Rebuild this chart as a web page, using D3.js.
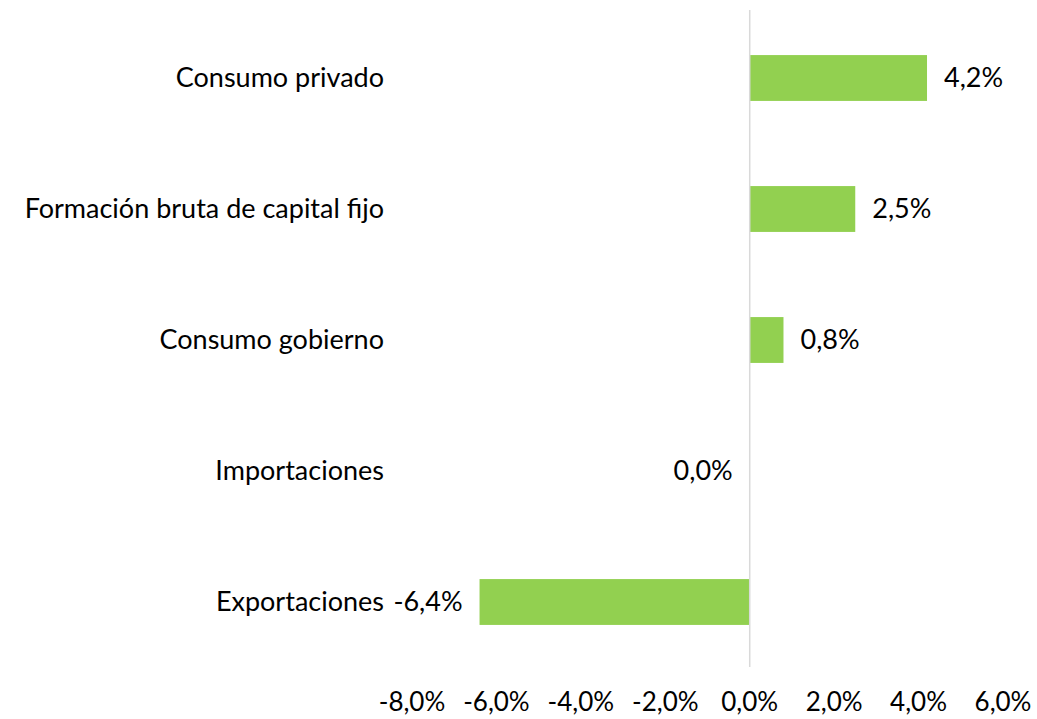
<!DOCTYPE html>
<html>
<head>
<meta charset="utf-8">
<script src="https://cdn.jsdelivr.net/npm/d3@7"></script>
<style>
  body { margin: 0; background: #fff; }
  text { font-family: Lato, "Open Sans", sans-serif; fill: #000; }
</style>
</head>
<body>
<div id="chartBox"></div>
<script>
var categories = ['Consumo privado', 'Formación bruta de capital fijo', 'Consumo gobierno', 'Importaciones', 'Exportaciones'];
var values = [4.2, 2.5, 0.8, 0.0, -6.4];
var ticks = [-8, -6, -4, -2, 0, 2, 4, 6];

var width = 1037, height = 719;
var fmt = function(v) { return v.toFixed(1).replace('.', ',') + '%'; };

var svg = d3.select('#chartBox').append('svg')
    .attr('width', width)
    .attr('height', height);

var x = d3.scaleLinear()
    .domain([-8, 6])
    .range([412, 1003]);

var y = d3.scaleBand()
    .domain(categories)
    .range([12.5, 667.5])
    .paddingInner(0.65)
    .paddingOuter(0.325);

// bars
svg.append('g').selectAll('rect')
    .data(values)
    .enter()
    .append('rect')
    .attr('x', function(d) { return x(Math.min(0, d)); })
    .attr('y', function(d, i) { return y(categories[i]); })
    .attr('width', function(d) { return Math.abs(x(d) - x(0)); })
    .attr('height', y.bandwidth())
    .attr('fill', '#92d050');

// zero line
svg.append('line')
    .attr('x1', x(0)).attr('x2', x(0))
    .attr('y1', 10).attr('y2', 667)
    .attr('stroke', '#d9d9d9')
    .attr('stroke-width', 1.5);

// value labels
svg.append('g').selectAll('text')
    .data(values)
    .enter()
    .append('text')
    .text(function(d) { return fmt(d); })
    .attr('x', function(d) { return d > 0 ? x(d) + 17 : x(d) - 17; })
    .attr('y', function(d, i) { return y(categories[i]) + y.bandwidth() / 2; })
    .attr('dy', '0.35em')
    .attr('text-anchor', function(d) { return d > 0 ? 'start' : 'end'; })
    .style('font-size', '27px');

// category labels
svg.append('g').selectAll('text')
    .data(categories)
    .enter()
    .append('text')
    .text(function(d) { return d; })
    .attr('x', 384)
    .attr('y', function(d) { return y(d) + y.bandwidth() / 2; })
    .attr('dy', '0.35em')
    .attr('text-anchor', 'end')
    .style('font-size', '27px');

// x axis tick labels
svg.append('g').selectAll('text')
    .data(ticks)
    .enter()
    .append('text')
    .text(function(d) { return fmt(d); })
    .attr('x', function(d) { return x(d); })
    .attr('y', 711)
    .attr('text-anchor', 'middle')
    .style('font-size', '26px');
</script>
</body>
</html>
